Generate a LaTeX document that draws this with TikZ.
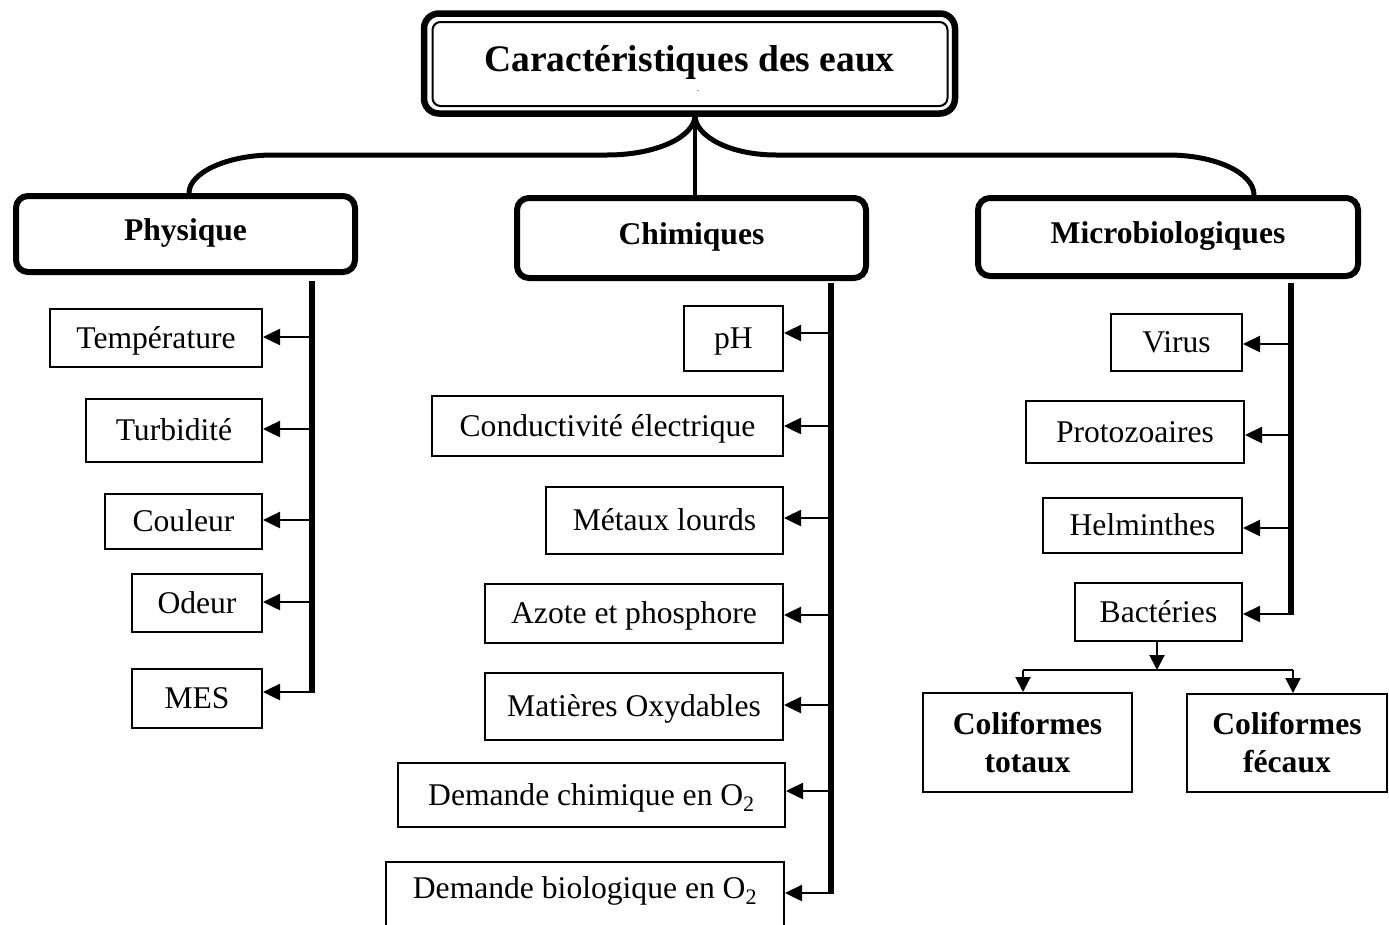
\documentclass[tikz,border=0pt]{standalone}
\usepackage{fontspec}
\setmainfont{Liberation Serif}
\usetikzlibrary{arrows.meta}
\begin{document}
\begin{tikzpicture}[x=1pt,y=-1pt,
  sbox/.style={draw, line width=2pt, rectangle, inner sep=0pt,
    font=\fontsize{31.6}{38}\selectfont, text height=20.5pt, text depth=0pt},
  hbox/.style={draw, line width=6pt, rounded corners=12pt, inner sep=0pt,
    font=\fontsize{31.6}{38}\selectfont\bfseries, text height=13pt, text depth=0pt},
  cbox/.style={draw, line width=2pt, rectangle, inner sep=0pt, align=center,
    font=\fontsize{31.6}{38}\selectfont\bfseries},
  arr/.style={line width=2.5pt, -{Triangle[length=17pt,width=16pt]}},
  sarr/.style={line width=2pt, -{Triangle[length=15pt,width=15pt]}},
  bar/.style={line width=5.5pt},
  brace/.style={line width=5pt},
]
\useasboundingbox (0,0) rectangle (1389,924);
\clip (0,0) rectangle (1389,924);

% title
\node[draw, line width=6.5pt, rounded corners=15pt, outer sep=0pt,
  minimum width=531pt, minimum height=100pt, inner sep=0pt,
  font=\fontsize{37.5}{44}\selectfont\bfseries, text height=16pt, text depth=0pt]
  (title) at (689.5,63.5) {Caractéristiques des eaux};
\draw[line width=2pt, rounded corners=8pt]
  ([xshift=8.5pt,yshift=-8.5pt]title.north west) rectangle
  ([xshift=-7.5pt,yshift=7.5pt]title.south east);
\node[inner sep=0pt, font=\fontsize{6}{6}\selectfont] (dash) at (698,92) {-};

% headers
\node[hbox, minimum width=339pt, minimum height=76pt] (phys) at (185.5,234) {Physique};
\node[hbox, minimum width=349pt, minimum height=80pt] (chim) at (691.5,238) {Chimiques};
\node[hbox, minimum width=380pt, minimum height=78pt] (micro) at (1168,237) {Microbiologiques};

% braces
\coordinate (j) at (695,115);
\draw[brace] (j) .. controls (695,137) and (656,155) .. (607,155) -- (273,155)
  .. controls (226.6,155) and (189,173) .. ([xshift=3.5pt]phys.north);
\draw[brace] (j) .. controls (695,137) and (731,155) .. (776,155) -- (1168,155)
  .. controls (1215.5,155) and (1254,173) .. ([xshift=86pt]micro.north);
\draw[line width=3.5pt] (j) -- (j |- chim.north);

% Physique column
\node[sbox, minimum width=212pt, minimum height=58pt] (temp) at (156,338) {Température};
\node[sbox, minimum width=176pt, minimum height=63pt] (turb) at (174,430.5) {Turbidité};
\node[sbox, minimum width=157pt, minimum height=55pt] (coul) at (183.5,521.5) {Couleur};
\node[sbox, minimum width=130pt, minimum height=58pt] (odeur) at (197,603) {Odeur};
\node[sbox, minimum width=130pt, minimum height=59pt] (mes) at (197,698.5) {MES};
\coordinate (vP) at (312,281);
\coordinate (pA) at (312,337);
\coordinate (pB) at (312,429);
\coordinate (pC) at (312,520);
\coordinate (pD) at (312,602);
\coordinate (pE) at (312,692);
\draw[bar] (vP) -- ([yshift=-1.25pt]pE);
\draw[arr] (pA) -- (temp.east |- pA);
\draw[arr] (pB) -- (turb.east |- pB);
\draw[arr] (pC) -- (coul.east |- pC);
\draw[arr] (pD) -- (odeur.east |- pD);
\draw[arr] (pE) -- (mes.east |- pE);

% Chimiques column
\node[sbox, minimum width=99pt, minimum height=65pt] (ph) at (733.5,338.5) {pH};
\node[sbox, minimum width=351pt, minimum height=60pt] (cond) at (607.5,426) {Conductivité électrique};
\node[sbox, minimum width=237pt, minimum height=67pt] (metaux) at (664.5,520.5) {Métaux lourds};
\node[sbox, minimum width=298pt, minimum height=59pt] (azote) at (634,613.5) {Azote et phosphore};
\node[sbox, minimum width=298pt, minimum height=67pt] (matox) at (634,706.5) {Matières Oxydables};
\node[sbox, minimum width=387pt, minimum height=64pt] (dco) at (591.5,795) {Demande chimique en O\textsubscript{2}\hspace{14pt}};
\node[sbox, minimum width=398pt, minimum height=78pt, text depth=25pt] (dbo) at (585,901) {Demande biologique en O\textsubscript{2}\hspace{14pt}};
\coordinate (vC) at (831,283);
\coordinate (cA) at (831,333);
\coordinate (cB) at (831,426);
\coordinate (cC) at (831,518);
\coordinate (cD) at (831,615);
\coordinate (cE) at (831,705);
\coordinate (cF) at (831,791);
\coordinate (cG) at (831,893);
\draw[bar] (vC) -- ([yshift=-1.25pt]cG);
\draw[arr] (cA) -- (ph.east |- cA);
\draw[arr] (cB) -- (cond.east |- cB);
\draw[arr] (cC) -- (metaux.east |- cC);
\draw[arr] (cD) -- (azote.east |- cD);
\draw[arr] (cE) -- (matox.east |- cE);
\draw[arr] (cF) -- (dco.east |- cF);
\draw[arr] (cG) -- (dbo.east |- cG);

% Microbiologiques column
\node[sbox, minimum width=131pt, minimum height=57pt] (virus) at (1176.5,342.5) {Virus};
\node[sbox, minimum width=218pt, minimum height=62pt] (proto) at (1135,432) {Protozoaires};
\node[sbox, minimum width=199pt, minimum height=55pt] (helm) at (1142.5,525.5) {Helminthes};
\node[sbox, minimum width=167pt, minimum height=58pt] (bact) at (1158.5,612) {Bactéries};
\coordinate (vM) at (1291,283);
\coordinate (mA) at (1291,344);
\coordinate (mB) at (1291,435);
\coordinate (mC) at (1291,528);
\coordinate (mD) at (1291,614);
\draw[bar] (vM) -- ([yshift=-1.25pt]mD);
\draw[arr] (mA) -- (virus.east |- mA);
\draw[arr] (mB) -- (proto.east |- mB);
\draw[arr] (mC) -- (helm.east |- mC);
\draw[arr] (mD) -- (bact.east |- mD);

% Coliformes
\node[cbox, minimum width=209pt, minimum height=99pt] (colT) at (1027.5,742.5) {Coliformes\\totaux};
\node[cbox, minimum width=200pt, minimum height=98pt] (colF) at (1287,743) {Coliformes\\fécaux};
\coordinate (split) at (1157,670);
\coordinate (sT) at (1023,670);
\coordinate (sF) at (1293,670);
\draw[sarr] (bact.south -| split) -- (split);
\draw[line width=2pt] (sT) -- (sF);
\draw[sarr] (sT) -- (sT |- colT.north);
\draw[sarr] (sF) -- (sF |- colF.north);
\end{tikzpicture}
\end{document}
